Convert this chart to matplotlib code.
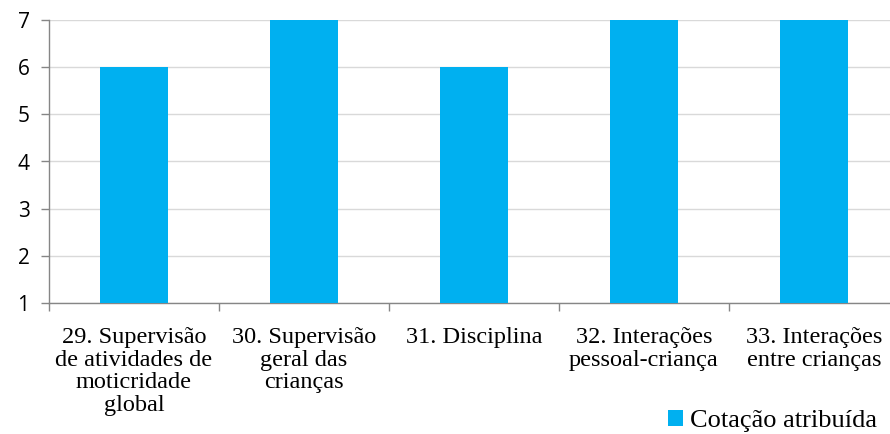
import matplotlib
matplotlib.use("Agg")
import matplotlib.pyplot as plt
from matplotlib.patches import Patch

categories = ["29. Supervisão\nde atividades de\nmoticridade\nglobal",
              "30. Supervisão\ngeral das\ncrianças",
              "31. Disciplina",
              "32. Interações\npessoal-criança",
              "33. Interações\nentre crianças"]
values = [6, 7, 6, 7, 7]
yticks = [1, 2, 3, 4, 5, 6, 7]
series_name = "Cotação atribuída"
color = "#00B0F0"

fig = plt.figure(figsize=(8.9, 4.34), dpi=100)
ax = fig.add_axes([49/890, 131/434, 850/890, 283/434])

x = list(range(len(categories)))
ax.bar(x, [v - 1 for v in values], bottom=1, width=0.4, color=color, zorder=3)
ax.set_xlim(-0.5, len(categories) - 0.5)
ax.set_ylim(1, 7)
ax.set_yticks(yticks)
ax.set_yticklabels([str(t) for t in yticks], fontsize=15, family="Open Sans")
ax.yaxis.grid(True, color="#D9D9D9", linewidth=1, zorder=0)
ax.set_axisbelow(True)

ax.set_xticks([i - 0.5 for i in range(len(categories) + 1)])
ax.set_xticklabels([])
ax.set_xticks(x, minor=True)
ax.set_xticklabels(categories, minor=True, fontsize=17.5, family="Liberation Serif",
                   linespacing=1.12)
ax.tick_params(axis="x", which="minor", length=0, pad=17)
ax.tick_params(axis="x", which="major", length=6, color="#868686", width=1)
ax.tick_params(axis="y", length=6, color="#868686", width=1, pad=8)

for s in ["top", "right"]:
    ax.spines[s].set_visible(False)
for s in ["left", "bottom"]:
    ax.spines[s].set_color("#868686")
    ax.spines[s].set_linewidth(1)

handle = Patch(facecolor=color, edgecolor="none")
fig.legend([handle], [series_name], loc="center left", bbox_to_anchor=(668/890, 1 - 421/434),
           frameon=False, prop={"family": "Liberation Serif", "size": 19},
           handlelength=0.55, handleheight=0.55, handletextpad=0.3, borderpad=0, borderaxespad=0)

fig.savefig("out.png", dpi=100)
